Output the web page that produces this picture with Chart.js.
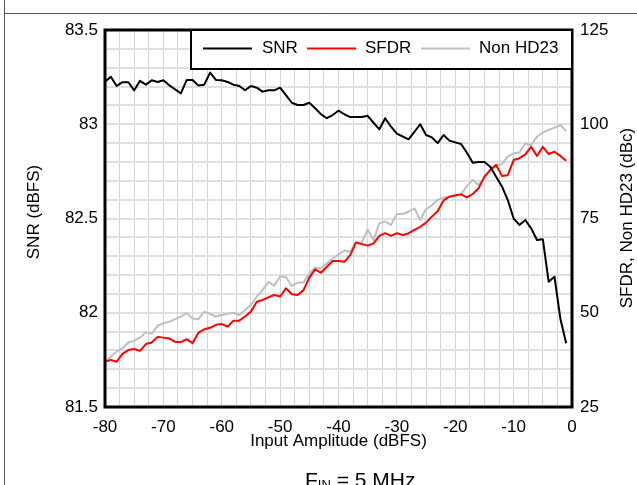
<!DOCTYPE html>
<html>
<head>
<meta charset="utf-8">
<title>SNR / SFDR vs Input Amplitude</title>
<script src="https://cdn.jsdelivr.net/npm/chart.js@4.4.1/dist/chart.umd.min.js"></script>
<style>
  html, body { margin: 0; padding: 0; background: #fff; }
  #wrap { width: 637px; height: 485px; }
</style>
</head>
<body>
<div id="wrap"><canvas id="chart" width="637" height="485"></canvas></div>
<script>
// ======================================
// Data
// ======================================
const amplitude = [
  -80, -79, -78, -77, -76, -75, -74, -73, -72, -71,
  -70, -69, -68, -67, -66, -65, -64, -63, -62, -61,
  -60, -59, -58, -57, -56, -55, -54, -53, -52, -51,
  -50, -49, -48, -47, -46, -45, -44, -43, -42, -41,
  -40, -39, -38, -37, -36, -35, -34, -33, -32, -31,
  -30, -29, -28, -27, -26, -25, -24, -23, -22, -21,
  -20, -19, -18, -17, -16, -15, -14, -13, -12, -11,
  -10, -9, -8, -7, -6, -5, -4, -3, -2, -1
];

// dBFS, left axis
const snr = [
  83.226, 83.252, 83.203, 83.223, 83.223, 83.180, 83.230, 83.210, 83.233, 83.224,
  83.233, 83.207, 83.185, 83.164, 83.235, 83.235, 83.205, 83.210, 83.274, 83.235,
  83.233, 83.224, 83.210, 83.203, 83.180, 83.203, 83.194, 83.173, 83.180, 83.180,
  83.194, 83.155, 83.114, 83.102, 83.102, 83.114, 83.085, 83.053, 83.032, 83.049,
  83.072, 83.053, 83.038, 83.038, 83.038, 83.045, 83.008, 82.973, 83.032, 82.987,
  82.950, 82.935, 82.920, 82.960, 83.000, 82.943, 82.930, 82.900, 82.943, 82.913,
  82.904, 82.895, 82.849, 82.796, 82.800, 82.800, 82.775, 82.722, 82.670, 82.598,
  82.500, 82.466, 82.492, 82.448, 82.386, 82.390, 82.165, 82.191, 81.970, 81.838
];

// dBc, right axis
const sfdr = [
  37.0, 37.5, 37.0, 39.1, 40.1, 40.4, 39.9, 41.7, 42.1, 43.6,
  43.4, 43.2, 42.3, 42.2, 43.0, 41.9, 44.7, 45.6, 46.0, 46.8,
  47.0, 46.3, 47.9, 47.9, 49.0, 50.3, 52.9, 53.4, 54.1, 54.7,
  54.3, 56.5, 54.9, 54.7, 56.0, 59.3, 61.5, 60.6, 62.2, 63.7,
  63.7, 63.5, 65.3, 68.6, 68.2, 67.8, 68.4, 70.4, 71.1, 70.4,
  71.1, 70.6, 71.1, 72.0, 72.8, 73.9, 75.5, 77.0, 79.8, 80.8,
  81.1, 81.4, 80.6, 81.5, 83.0, 86.1, 87.9, 89.2, 86.3, 86.5,
  90.5, 91.0, 92.0, 94.0, 91.6, 94.0, 92.1, 92.7, 91.6, 90.3
];

const nonHd23 = [
  37.0, 38.3, 39.7, 40.6, 42.1, 42.6, 43.4, 44.8, 44.4, 46.6,
  47.2, 47.6, 48.3, 49.0, 49.9, 48.5, 48.3, 50.3, 49.7, 49.0,
  49.4, 49.7, 50.0, 49.4, 50.7, 52.1, 54.3, 56.0, 58.2, 57.2,
  59.7, 59.4, 57.1, 58.0, 58.0, 60.3, 62.0, 61.8, 63.1, 64.4,
  65.5, 66.5, 66.2, 68.8, 68.6, 72.1, 69.3, 73.7, 74.2, 73.3,
  76.2, 76.2, 76.8, 77.7, 74.6, 77.5, 78.5, 80.0, 80.6, 80.8,
  81.2, 81.4, 83.6, 85.2, 83.9, 85.8, 87.9, 89.2, 89.4, 91.4,
  92.3, 92.5, 94.9, 94.5, 96.7, 97.8, 98.5, 99.1, 99.8, 98.2
];

const xTickLabels = [-80, -70, -60, -50, -40, -30, -20, -10, 0];
const snrTickLabels = [81.5, 82, 82.5, 83, 83.5];
const dbcTickLabels = [25, 50, 75, 100, 125];

const seriesNames = ['SNR', 'SFDR', 'Non HD23'];
const seriesColors = ['#000000', '#ff0000', '#bfbfbf'];

// ======================================
// Helpers
// ======================================
const FONT = "'Liberation Sans', Arial, Helvetica, sans-serif";
const tickFont = { family: FONT, size: 17 };

const inList = (list, v) => list.some(t => Math.abs(t - v) < 1e-6);
const toPoints = ys => ys.map((y, i) => ({ x: amplitude[i], y: y }));

// ======================================
// Decorations: plot frame, legend box, titles, page rules
// ======================================
const decorations = {
  id: 'decorations',
  beforeDraw(chart) {
    const ctx = chart.ctx;
    ctx.save();
    ctx.fillStyle = '#fff';
    ctx.fillRect(0, 0, chart.width, chart.height);
    ctx.restore();
  },
  afterDatasetsDraw(chart) {
    const ctx = chart.ctx;
    const a = chart.chartArea;
    ctx.save();

    // plot frame
    ctx.strokeStyle = '#000';
    ctx.lineWidth = 3;
    ctx.strokeRect(a.left, a.top, a.right - a.left, a.bottom - a.top);

    // legend box
    const lx = 191, ly = a.top, lw = a.right - 191, lh = 39;
    ctx.fillStyle = '#fff';
    ctx.fillRect(lx, ly, lw, lh);
    ctx.lineWidth = 2;
    ctx.strokeRect(lx, ly, lw, lh);

    const items = [
      { x0: 203, x1: 252, tx: 262 },
      { x0: 307, x1: 356, tx: 365 },
      { x0: 421, x1: 470, tx: 479 }
    ];
    const cy = ly + 18.5;
    ctx.font = '17px ' + FONT;
    ctx.textBaseline = 'middle';
    ctx.textAlign = 'left';
    items.forEach((it, i) => {
      ctx.strokeStyle = seriesColors[i];
      ctx.lineWidth = 2;
      ctx.beginPath();
      ctx.moveTo(it.x0, cy);
      ctx.lineTo(it.x1, cy);
      ctx.stroke();
      ctx.fillStyle = '#000';
      ctx.fillText(seriesNames[i], it.tx, cy);
    });
    ctx.restore();
  },
  afterDraw(chart) {
    const ctx = chart.ctx;
    const a = chart.chartArea;
    ctx.save();
    ctx.fillStyle = '#000';
    ctx.font = '17px ' + FONT;

    // x axis title
    ctx.textAlign = 'center';
    ctx.textBaseline = 'alphabetic';
    ctx.fillText('Input Amplitude (dBFS)', (a.left + a.right) / 2, 446);

    // left axis title
    ctx.save();
    ctx.translate(39, 212);
    ctx.rotate(-Math.PI / 2);
    ctx.textBaseline = 'alphabetic';
    ctx.fillText('SNR (dBFS)', 0, 0);
    ctx.restore();

    // right axis title
    ctx.save();
    ctx.translate(632, 218);
    ctx.rotate(-Math.PI / 2);
    ctx.textBaseline = 'alphabetic';
    ctx.fillText('SFDR, Non HD23 (dBc)', 0, 0);
    ctx.restore();

    // input frequency note, F with subscript IN
    ctx.textAlign = 'left';
    let x = 305;
    const base = 486.5;
    ctx.font = '21px ' + FONT;
    ctx.fillText('F', x, base);
    x += ctx.measureText('F').width;
    ctx.font = '13px ' + FONT;
    ctx.fillText('IN', x, base + 2);
    x += ctx.measureText('IN').width;
    ctx.font = '21px ' + FONT;
    ctx.fillText(' = 5 MHz', x, base);

    // page rules
    ctx.strokeStyle = '#555';
    ctx.lineWidth = 1;
    ctx.beginPath();
    ctx.moveTo(4.5, 0);
    ctx.lineTo(4.5, chart.height);
    ctx.moveTo(4, 13.5);
    ctx.lineTo(chart.width, 13.5);
    ctx.stroke();
    ctx.restore();
  }
};

// ======================================
// Chart
// ======================================
const ctx = document.getElementById('chart').getContext('2d');

new Chart(ctx, {
  type: 'line',
  data: {
    datasets: [
      { label: seriesNames[0], data: toPoints(snr), yAxisID: 'y', borderColor: seriesColors[0] },
      { label: seriesNames[1], data: toPoints(sfdr), yAxisID: 'y2', borderColor: seriesColors[1] },
      { label: seriesNames[2], data: toPoints(nonHd23), yAxisID: 'y2', borderColor: seriesColors[2] }
    ]
  },
  options: {
    responsive: false,
    animation: false,
    layout: { padding: { top: 30, left: 0, right: 0, bottom: 0 } },
    plugins: {
      legend: { display: false },
      tooltip: { enabled: false }
    },
    elements: {
      point: { radius: 0 },
      line: { tension: 0, borderWidth: 2, borderJoinStyle: 'round', fill: false }
    },
    scales: {
      x: {
        type: 'linear',
        min: -80,
        max: 0,
        afterFit: s => { s.height = 78; },
        border: { display: false },
        grid: { color: '#d4d4d4', lineWidth: 1, drawTicks: false },
        ticks: {
          stepSize: 2.5,
          maxTicksLimit: 100,
          autoSkip: false,
          maxRotation: 0,
          padding: 10,
          color: '#000',
          font: tickFont,
          callback: v => inList(xTickLabels, v) ? String(Math.round(v)) : ''
        }
      },
      y: {
        position: 'left',
        min: 81.5,
        max: 83.5,
        afterFit: s => { s.width = 105; },
        border: { display: false },
        grid: { color: '#e0e0e0', lineWidth: 2, drawTicks: false },
        ticks: {
          stepSize: 0.1,
          maxTicksLimit: 100,
          autoSkip: false,
          padding: 7,
          color: '#000',
          font: tickFont,
          callback: v => inList(snrTickLabels, v) ? String(+v.toFixed(1)) : ''
        }
      },
      y2: {
        position: 'right',
        min: 25,
        max: 125,
        afterFit: s => { s.width = 65; },
        border: { display: false },
        grid: { display: false, drawTicks: false },
        ticks: {
          stepSize: 25,
          padding: 8,
          color: '#000',
          font: tickFont,
          callback: v => inList(dbcTickLabels, v) ? String(v) : ''
        }
      }
    }
  },
  plugins: [decorations]
});
</script>
</body>
</html>
